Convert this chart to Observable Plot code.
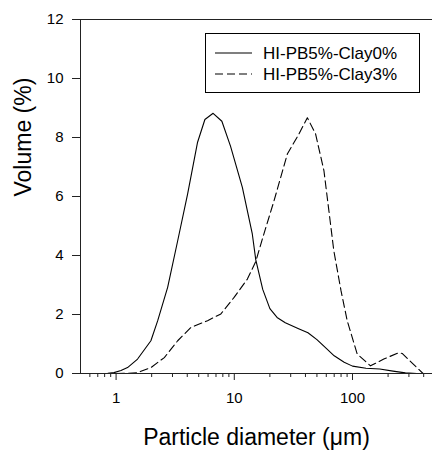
<!DOCTYPE html>
<html><head><meta charset="utf-8">
<script src="https://cdn.jsdelivr.net/npm/d3@7"></script>
<script src="https://cdn.jsdelivr.net/npm/@observablehq/plot@0.6"></script>
<style>
body{margin:0;background:#fff}
svg{font-family:"Liberation Sans",Arial,sans-serif}
</style>
</head><body><div id="chart"></div>
<script>
const seriesNames = ["HI-PB5%-Clay0%", "HI-PB5%-Clay3%"];
const clay0Diameter = [0.5, 0.7, 0.85, 0.96, 1.1, 1.25, 1.52, 1.97, 2.25, 2.73, 3.32, 4.03, 4.89, 5.64, 6.62, 7.85, 9.3, 11.7, 14.2, 15.2, 17.4, 20, 23, 27, 35, 42, 50, 60, 70, 85, 100, 130, 170, 220, 280, 350, 500];
const clay0Volume   = [0, 0, 0.01, 0.03, 0.1, 0.2, 0.49, 1.11, 1.79, 2.92, 4.5, 6.09, 7.84, 8.61, 8.82, 8.55, 7.7, 6.31, 4.73, 3.85, 2.85, 2.2, 1.9, 1.72, 1.52, 1.38, 1.15, 0.85, 0.6, 0.38, 0.25, 0.18, 0.15, 0.08, 0.02, 0, 0];
const clay3Diameter = [0.5, 1.0, 1.25, 1.52, 1.97, 2.56, 3.32, 4.3, 5.94, 7.7, 9.96, 12.9, 15.2, 17.4, 21.7, 28.1, 35, 41.5, 48.7, 57.3, 69.5, 80, 90.2, 109.6, 142, 184, 244, 263, 320, 395];
const clay3Volume   = [0, 0, 0.005, 0.03, 0.2, 0.54, 1.11, 1.56, 1.79, 2.02, 2.58, 3.2, 3.8, 4.6, 5.86, 7.44, 8.1, 8.67, 8.12, 6.88, 4.16, 2.8, 1.79, 0.66, 0.26, 0.49, 0.7, 0.68, 0.35, 0];
const yTicks = [0, 2, 4, 6, 8, 10, 12];
const xMajorTicks = [1, 10, 100];
const xMinorTicks = [0.6, 0.7, 0.8, 0.9, 2, 3, 4, 5, 6, 7, 8, 9, 20, 30, 40, 50, 60, 70, 80, 90, 200, 300, 400];
const xLabel = "Particle diameter (\u03bcm)";
const yLabel = "Volume (%)";

const clay0 = clay0Diameter.map((d, i) => ({d, v: clay0Volume[i]}));
const clay3 = clay3Diameter.map((d, i) => ({d, v: clay3Volume[i]}));

const font = '"Liberation Sans", Arial, sans-serif';
const axisColor = "#222";

const chart = Plot.plot({
  width: 432, height: 451,
  marginLeft: 80, marginRight: 0, marginTop: 19, marginBottom: 78,
  style: {fontFamily: font, fontSize: "15px", color: "#000", background: "#fff", overflow: "visible"},
  x: {type: "log", domain: [0.5, 475]},
  y: {domain: [0, 12]},
  marks: [
    Plot.ruleY([12], {stroke: axisColor}),
    Plot.line(clay0, {x: "d", y: "v", stroke: "#000", strokeWidth: 1.1}),
    Plot.line(clay3, {x: "d", y: "v", stroke: "#000", strokeWidth: 1.1, strokeDasharray: "8,4"}),
    Plot.ruleY([0], {stroke: axisColor}),
    Plot.ruleX([0.5], {stroke: axisColor}),
    Plot.axisY({ticks: yTicks, tickSize: 8, tickPadding: 9, label: null, fontSize: 15, stroke: axisColor}),
    Plot.axisX({ticks: xMajorTicks, tickSize: 7, tickPadding: 12, label: null, fontSize: 15, tickFormat: d => String(d), stroke: axisColor}),
    Plot.axisX({ticks: xMinorTicks, tickSize: 4, label: null, tickFormat: () => "", stroke: axisColor}),
    Plot.text([xLabel], {text: d => d, frameAnchor: "bottom", dy: 64, fontSize: 23, lineAnchor: "middle"}),
    Plot.text([yLabel], {text: d => d, frameAnchor: "left", dx: -57, rotate: -90, fontSize: 23, lineAnchor: "middle"})
  ]
});
document.getElementById("chart").appendChild(chart);

// legend inside plot area
const svg = d3.select(chart);
const lg = svg.append("g").attr("transform", "translate(205,33)");
lg.append("rect").attr("x", 0.5).attr("y", 0.5).attr("width", 214).attr("height", 59)
  .attr("fill", "#fff").attr("stroke", "#000").attr("stroke-width", 1);
const dashes = [null, "8,4"];
seriesNames.forEach((name, i) => {
  const y = 20 + i * 21;
  lg.append("line").attr("x1", 10).attr("x2", 47).attr("y1", y).attr("y2", y)
    .attr("stroke", "#000").attr("stroke-width", 1.1).attr("stroke-dasharray", dashes[i]);
  lg.append("text").attr("x", 58).attr("y", y).attr("dy", "0.35em")
    .attr("text-anchor", "start")
    .attr("font-size", 17).attr("font-family", font).attr("fill", "#000").text(name);
});
</script>
</body></html>
